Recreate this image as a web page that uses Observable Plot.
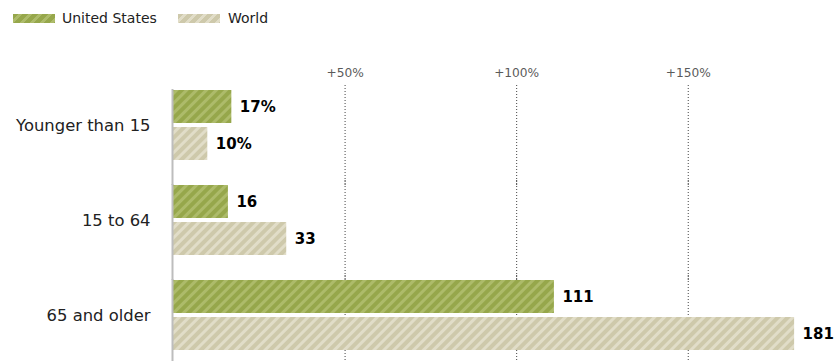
<!DOCTYPE html>
<html>
<head>
<meta charset="utf-8">
<script src="https://cdn.jsdelivr.net/npm/d3@7"></script>
<script src="https://cdn.jsdelivr.net/npm/@observablehq/plot@0.6"></script>
<style>
  html, body { margin: 0; padding: 0; background: #fff; }
  body { width: 837px; height: 361px; overflow: hidden; font-family: "DejaVu Sans", sans-serif; }
  #legend { position: relative; height: 36px; font-size: 14px; color: #222; }
  .sw { position: absolute; top: 14px; width: 42px; height: 9px; }
  .lt { position: absolute; top: 10px; line-height: 16px; }
  #chart svg { overflow: visible; }
  #chart g[aria-label^="fy-axis"] text { font-size: 16.4px; fill: #222; }
  #chart g[aria-label^="x-axis"] text { font-size: 12.2px; fill: #5a5a5a; }
</style>
</head>
<body>
<div id="legend"></div>
<div id="chart"></div>
<script>
const groups = ["Younger than 15", "15 to 64", "65 and older"];
const series = ["United States", "World"];
const usValues = [17, 16, 111];
const worldValues = [10, 33, 181];
const usLabels = ["17%", "16", "111"];
const worldLabels = ["10%", "33", "181"];
const tickValues = [50, 100, 150];
const tickLabels = ["+50%", "+100%", "+150%"];

const usDark = "#96a74b", usLight = "#adbb6a";
const wDark = "#cec9ab", wLight = "#e1ddc8";

const data = [];
groups.forEach((g, i) => {
  data.push({group: g, series: series[0], value: usValues[i], label: usLabels[i]});
  data.push({group: g, series: series[1], value: worldValues[i], label: worldLabels[i]});
});

// legend
const legend = document.getElementById("legend");
const legendItems = [
  {name: series[0], dark: usDark, light: usLight, sx: 13, tx: 62},
  {name: series[1], dark: wDark, light: wLight, sx: 178, tx: 228}
];
legendItems.forEach(it => {
  const s = document.createElement("div");
  s.className = "sw";
  s.style.left = it.sx + "px";
  s.style.background = `repeating-linear-gradient(135deg, ${it.dark} 0 4px, ${it.light} 4px 7px)`;
  legend.appendChild(s);
  const t = document.createElement("div");
  t.className = "lt";
  t.style.left = it.tx + "px";
  t.textContent = it.name;
  legend.appendChild(t);
});

const chart = Plot.plot({
  width: 837,
  height: 325,
  marginTop: 52,
  marginBottom: 10,
  marginLeft: 173,
  marginRight: 12,
  style: {fontFamily: "DejaVu Sans, sans-serif", fontSize: "12px", background: "transparent", overflow: "visible"},
  x: {domain: [0, 190], axis: "top", ticks: tickValues, tickFormat: d => tickLabels[tickValues.indexOf(d)], tickSize: 0, tickPadding: 13, label: null},
  fy: {domain: groups, axis: "left", paddingInner: 0.246, paddingOuter: 0, tickSize: 0, tickPadding: 23, label: null},
  y: {domain: series, paddingInner: 0.105, paddingOuter: 0, axis: null},
  color: {domain: series, range: ["url(#patUS)", "url(#patW)"]},
  facet: {data: data, y: "group"},
  marks: [
    Plot.ruleX(tickValues, {stroke: "#444", strokeWidth: 1, strokeDasharray: "1,2", insetTop: -4, insetBottom: -24}),
    Plot.barX(data, {x: "value", y: "series", fill: "series"}),
    Plot.ruleX([0], {stroke: "#bdbdbd", strokeWidth: 2, dx: -1, insetBottom: -24}),
    Plot.text(data, {x: "value", y: "series", text: "label", textAnchor: "start", dx: 8, fontSize: 15, fontWeight: 900, fill: "#000"})
  ]
});

d3.select(chart).insert("defs", ":first-child").html(`
  <pattern id="patUS" patternUnits="userSpaceOnUse" width="7" height="7" patternTransform="rotate(45)">
    <rect width="7" height="7" fill="${usDark}"/><rect width="3" height="7" fill="${usLight}"/>
  </pattern>
  <pattern id="patW" patternUnits="userSpaceOnUse" width="7" height="7" patternTransform="rotate(45)">
    <rect width="7" height="7" fill="${wDark}"/><rect width="3" height="7" fill="${wLight}"/>
  </pattern>`);

document.getElementById("chart").appendChild(chart);
</script>
</body>
</html>
